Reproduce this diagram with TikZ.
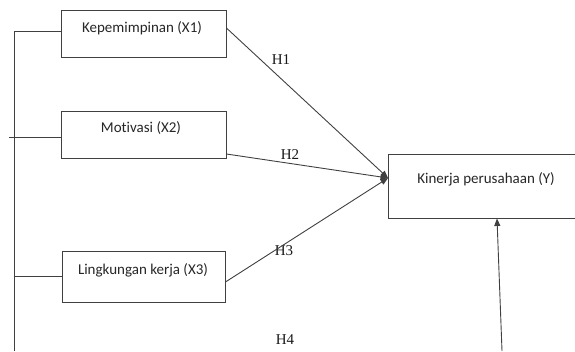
\documentclass[tikz,border=0pt]{standalone}
\usepackage{fontspec}
\setmainfont{Liberation Serif}
\newfontfamily\boxfont[Ligatures=NoCommon]{Carlito}
\usetikzlibrary{arrows.meta}
\begin{document}
\begin{tikzpicture}[x=1pt,y=-1pt,
  ln/.style={draw=black!75,line width=0.9pt},
  box/.style={draw=black!75,line width=0.9pt,inner sep=0pt,minimum width=165pt,minimum height=47pt},
  btxt/.style={font=\boxfont\fontsize{15}{17}\selectfont,text=black!85,inner sep=0pt},
  hl/.style={font=\fontsize{15}{17}\selectfont,text=black!90,inner sep=0pt},
  arr/.style={ln,-{Triangle[length=7.5pt,width=6pt]}}]
\useasboundingbox (0,0) rectangle (575,351);
% boxes
\node[box] (x1) at (143.5,33.5) {};
\node[box] (x2) at (143.5,134.5) {};
\node[box,minimum width=163pt,minimum height=51pt] (x3) at (143.5,276.5) {};
\node[box,minimum width=200pt,minimum height=64pt] (y) at (488,186) {};
% texts
\node[btxt] (t1) at (142,28) {Kepemimpinan (X1)};
\node[btxt] (t2) at (141,128) {Motivasi (X2)};
\node[btxt] (t3) at (143,270) {Lingkungan kerja (X3)};
\node[btxt] (ty) at (486,179) {Kinerja perusahaan (Y)};
% hypothesis labels
\node[hl] (h1) at (281,60) {H1};
\node[hl] (h2) at (290,155) {H2};
\node[hl] (h3) at (284,251) {H3};
\node[hl] (h4) at (285,340) {H4};
% coordinates
\coordinate (tip) at (388,178);
\coordinate (tl) at (14,31);
\coordinate (bl) at (14,351);
\coordinate (m2) at (9,137);
\coordinate (m3) at (14,276);
\coordinate (bb) at (502,351);
% arrows to Y
\draw[arr] ([yshift=5.5pt]x1.east) -- (tip);
\draw[arr] ([yshift=-19.5pt]x2.east) -- (tip);
\draw[arr] ([yshift=-5.5pt]x3.east) -- (tip);
\draw[arr] (bb) -- ([xshift=9pt]y.south);
% left trunk
\draw[ln] (tl -| x1.west) -- (tl) -- (bl);
\draw[ln] (m2) -- (m2 -| x2.west);
\draw[ln] (m3) -- (m3 -| x3.west);
\end{tikzpicture}
\end{document}
